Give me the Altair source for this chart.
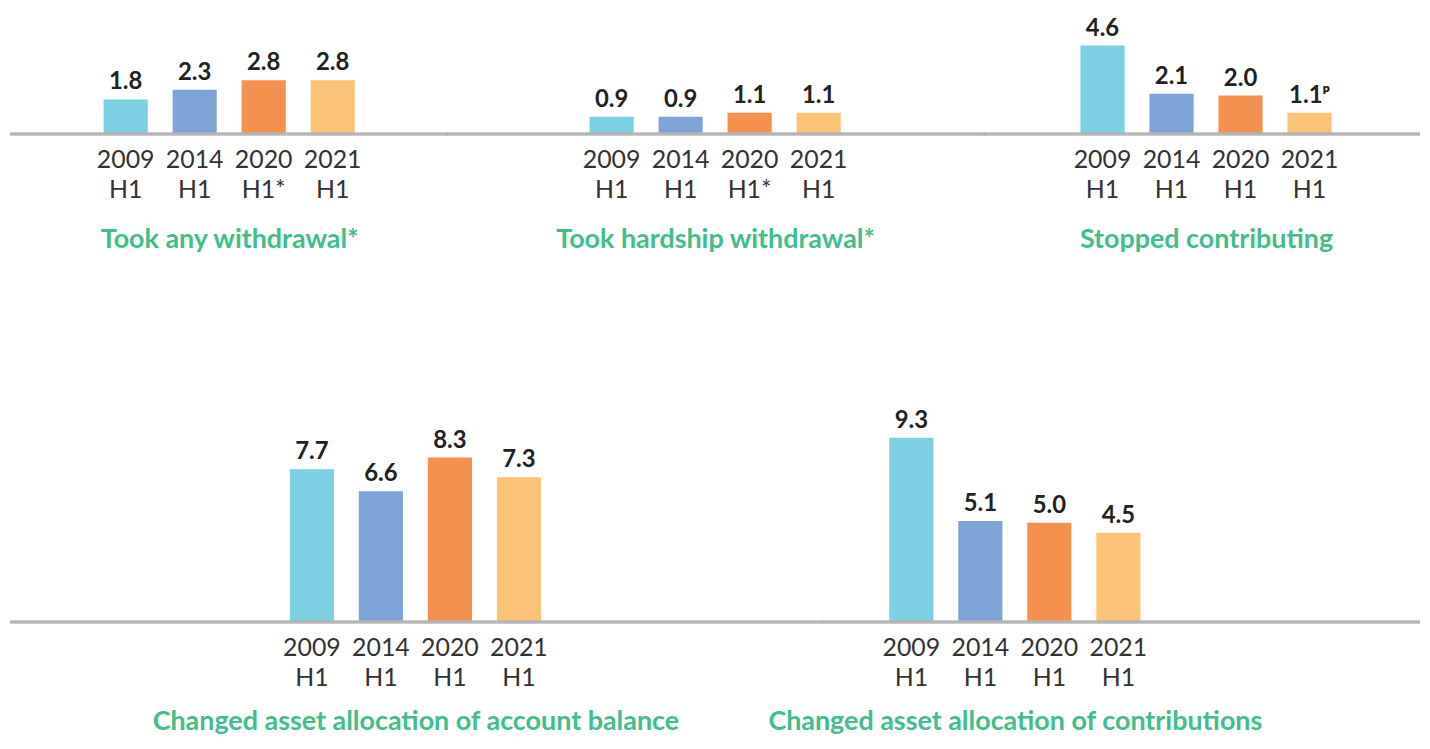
import altair as alt
import pandas as pd

# ---------------- data ----------------
years = ["2009", "2014", "2020", "2021"]
bar_colors = ["#7dcfe3", "#7ea4d7", "#f5914f", "#fbc378"]

titles = [
    "Took any withdrawal*",
    "Took hardship withdrawal*",
    "Stopped contributing",
    "Changed asset allocation of account balance",
    "Changed asset allocation of contributions",
]
halves = [
    ["H1", "H1", "H1*", "H1"],
    ["H1", "H1", "H1*", "H1"],
    ["H1", "H1", "H1", "H1"],
    ["H1", "H1", "H1", "H1"],
    ["H1", "H1", "H1", "H1"],
]
values = [
    [1.8, 2.3, 2.8, 2.8],
    [0.9, 0.9, 1.1, 1.1],
    [4.6, 2.1, 2.0, 1.1],
    [7.7, 6.6, 8.3, 7.3],
    [9.3, 5.1, 5.0, 4.5],
]
value_labels = [
    ["1.8", "2.3", "2.8", "2.8"],
    ["0.9", "0.9", "1.1", "1.1"],
    ["4.6", "2.1", "2.0", "1.1ᵖ"],
    ["7.7", "6.6", "8.3", "7.3"],
    ["9.3", "5.1", "5.0", "4.5"],
]

# ---------------- style / layout ----------------
GREEN = "#43bd8c"
FONT = "Lato"
STEP = 69.3
PAD_INNER = 0.36
# (panel width, offset of first bar from panel's left edge)
layout = [(438, 94), (540, 144), (436, 97), (814, 281), (600, 69)]
row_heights = [125, 330]
row_ymax = [125 / 19.3, 330 / 19.9]
row_title_pad = [24, 18]


def panel(i, height, ymax, title_pad):
    width, g_off = layout[i]
    df = pd.DataFrame({
        "cat": [f"{y} {h}" for y, h in zip(years, halves[i])],
        "year": years,
        "value": values[i],
        "label": value_labels[i],
    })
    group = (4 - PAD_INNER) * STEP
    x = alt.X(
        "cat:N",
        sort=None,
        scale=alt.Scale(paddingInner=PAD_INNER, paddingOuter=0, range=[g_off, g_off + group]),
        axis=alt.Axis(
            title=titles[i],
            titleFont=FONT,
            titleFontSize=27,
            titleFontWeight="bold",
            titleColor=GREEN,
            titlePadding=title_pad,
            labelExpr="split(datum.label, ' ')",
            labelFont=FONT,
            labelFontSize=25,
            labelColor="#333333",
            labelLineHeight=30,
            labelPadding=14,
            labelAngle=0,
            ticks=False,
            domain=False,
            grid=False,
        ),
    )
    y = alt.Y("value:Q", scale=alt.Scale(domain=[0, ymax], nice=False, zero=True), axis=None)
    base = alt.Chart(df).encode(x=x, y=y)
    bars = base.mark_bar(size=STEP * (1 - PAD_INNER)).encode(
        color=alt.Color("year:N", scale=alt.Scale(domain=years, range=bar_colors), legend=None)
    )
    text = base.mark_text(
        baseline="alphabetic", dy=-10, font=FONT, fontSize=24, fontWeight="bold", color="#222222"
    ).encode(text="label:N")
    baseline = (
        alt.Chart(df)
        .mark_rule(color="#b5b5b5", strokeWidth=2.5)
        .encode(y=alt.datum(0), x=alt.value(0), x2=alt.value(width + 2))
    )
    return (bars + text + baseline).properties(width=width, height=height)


top = alt.hconcat(
    *[panel(i, row_heights[0], row_ymax[0], row_title_pad[0]) for i in range(3)],
    spacing=0, bounds="flush",
)
bottom = alt.hconcat(
    *[panel(i, row_heights[1], row_ymax[1], row_title_pad[1]) for i in range(3, 5)],
    spacing=0, bounds="flush",
)

chart = (
    alt.vconcat(top, bottom, spacing=41)
    .properties(padding=0, background="white")
    .configure_view(stroke=None)
    .configure_concat(spacing=0)
)

chart.save("out.html", embed_options={"renderer": "svg", "actions": False})
